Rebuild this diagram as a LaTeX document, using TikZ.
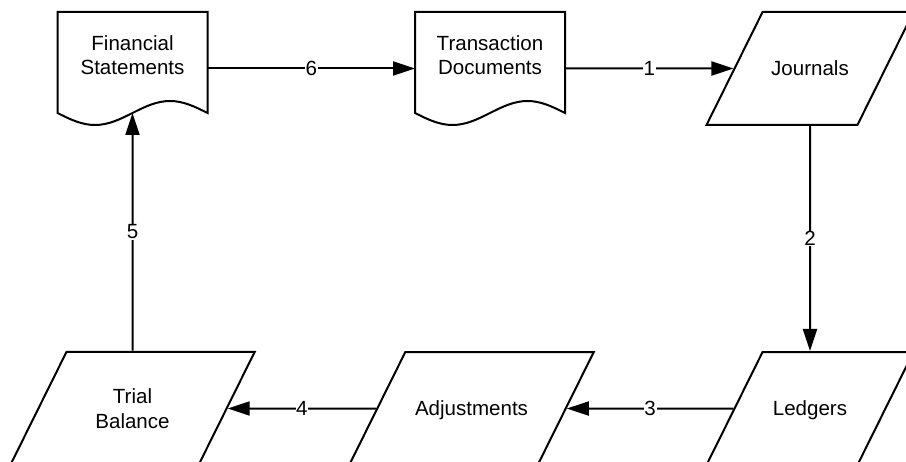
\documentclass[tikz,border=0pt]{standalone}
\usepackage{fontspec}
\setmainfont{Liberation Sans}
\usetikzlibrary{positioning,shapes.geometric,arrows.meta}

\begin{document}
\begin{tikzpicture}[x=0.75pt, y=0.75pt, line width=1.5pt,
    txt/.style={font=\fontsize{15.4}{18.4}\selectfont, align=center},
    docbox/.style={shape=rectangle, outer sep=0pt, minimum width=112.5pt, minimum height=84.75pt},
    slant/.style={draw, txt, shape=trapezium, trapezium left angle=63.6, trapezium right angle=116.4, trapezium stretches body=true, text height=11pt, text depth=0pt, inner ysep=36.875pt, minimum height=84.75pt},
    num/.style={txt, fill=white, inner sep=0.5pt},
    arr/.style={-{Triangle[length=16.5pt, width=10.5pt]}}]
        \useasboundingbox (0,0) rectangle (906,461);

        \node[docbox] (fs) at (132.5,392.5) {};
        \node[txt] (fstxt) at ([yshift=10pt]fs.center) {Financial\\Statements};
        \node[docbox] (td) at (490,392.5) {};
        \node[txt] (tdtxt) at ([yshift=10pt]td.center) {Transaction\\Documents};
        \node[slant, minimum width=155.25pt] (jn) at (810,392.5) {Journals};
        \node[slant, minimum width=155.25pt] (lg) at (810,52.5) {Ledgers};
        \node[slant, minimum width=183.4pt] (ad) at (471.5,52.5) {Adjustments};
        \node[slant, minimum width=183.4pt, text height=, text depth=, inner ysep=27.7pt] (tb) at (132.5,52.5) {Trial\\Balance};

        \draw (fs.north west) -- (fs.north east) -- ++(0,-101) sin ++(-37.5,12) cos ++(-37.5,-12) sin ++(-37.5,-12) cos ++(-37.5,12) -- cycle;
        \draw (td.north west) -- (td.north east) -- ++(0,-101) sin ++(-37.5,12) cos ++(-37.5,-12) sin ++(-37.5,-12) cos ++(-37.5,12) -- cycle;

        \draw (fs) edge[arr] node[num] {6} (td) (td) edge[arr] node[num] {1} (jn) (jn) edge[arr] node[num] {2} (lg);
        \draw (lg) edge[arr] node[num] {3} (ad) (ad) edge[arr] node[num] {4} (tb) (tb) edge[arr] node[num] {5} ([yshift=9pt]fs.south);

\end{tikzpicture}
\end{document}
